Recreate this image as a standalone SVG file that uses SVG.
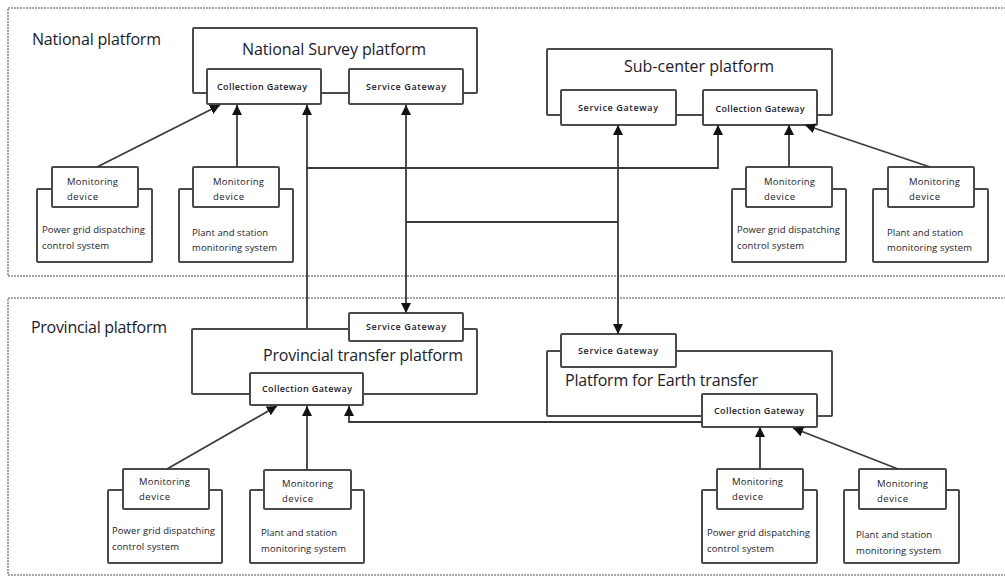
<svg xmlns="http://www.w3.org/2000/svg" width="1005" height="576" viewBox="0 0 1005 576">
<defs>
<marker id="ah" viewBox="0 0 10 10" refX="10" refY="5" markerWidth="10" markerHeight="10" markerUnits="userSpaceOnUse" orient="auto-start-reverse">
<path d="M0,0 L10,5 L0,10 z" fill="#111"/>
</marker>
<style>
.frame{fill:none;stroke:#8a8a8a;stroke-width:1.6;stroke-dasharray:2 1}
.box{fill:#fff;stroke:#4a4a4a;stroke-width:2}
.ln{fill:none;stroke:#3a3a3a;stroke-width:1.8}
.t{font-family:"Open Sans","Liberation Sans",sans-serif;fill:#1a1a2a}
.big{font-size:16px}
.sm{font-size:9.5px}
.gw{font-size:9px;text-anchor:middle;font-weight:600}
</style>
</defs>
<rect width="1005" height="576" fill="#fff"/>
<rect class="frame" x="8" y="8" width="1010" height="268"/>
<rect class="frame" x="8" y="298" width="1010" height="277"/>
<text class="t big" x="32" y="45" textLength="129">National platform</text>
<text class="t big" x="31" y="333" textLength="136">Provincial platform</text>

<g id="national-survey">
<rect class="box" x="193" y="28" width="284" height="65" rx="1"/>
<text class="t big" x="242" y="55" textLength="184">National Survey platform</text>
<rect class="box" x="207" y="69" width="114" height="35" rx="1"/>
<text class="t gw" x="262" y="90" textLength="90">Collection Gateway</text>
<rect class="box" x="349" y="69" width="114" height="35" rx="1"/>
<text class="t gw" x="406" y="90" textLength="80">Service Gateway</text>
</g>

<g id="sub-center">
<rect class="box" x="547" y="49" width="285" height="66" rx="1"/>
<text class="t big" x="624" y="72" textLength="150">Sub-center platform</text>
<rect class="box" x="561" y="90" width="115" height="35" rx="1"/>
<text class="t gw" x="618" y="111" textLength="80">Service Gateway</text>
<rect class="box" x="703" y="90" width="114" height="35" rx="1"/>
<text class="t gw" x="760" y="112" textLength="89">Collection Gateway</text>
</g>

<g id="provincial-transfer">
<rect class="box" x="192" y="329" width="285" height="65" rx="1"/>
<rect class="box" x="349" y="313" width="114" height="28" rx="1"/>
<text class="t gw" x="406" y="330" textLength="80">Service Gateway</text>
<text class="t big" x="263" y="361" textLength="200">Provincial transfer platform</text>
<rect class="box" x="250" y="373" width="113" height="32" rx="1"/>
<text class="t gw" x="307" y="392" textLength="90">Collection Gateway</text>
</g>

<g id="earth-transfer">
<rect class="box" x="547" y="351" width="285" height="65" rx="1"/>
<rect class="box" x="561" y="334" width="115" height="33" rx="1"/>
<text class="t gw" x="618" y="354" textLength="80">Service Gateway</text>
<text class="t big" x="565" y="386" textLength="193">Platform for Earth transfer</text>
<rect class="box" x="702" y="394" width="115" height="33" rx="1"/>
<text class="t gw" x="759" y="414" textLength="90">Collection Gateway</text>
</g>

<g id="dev-n1">
<rect class="box" x="37" y="189" width="115" height="73" rx="1"/>
<rect class="box" x="52" y="167" width="86" height="40" rx="1"/>
<text class="t sm" x="67" y="185" textLength="51">Monitoring</text>
<text class="t sm" x="67" y="200" textLength="31">device</text>
<text class="t sm" x="42" y="233" textLength="103">Power grid dispatching</text>
<text class="t sm" x="42" y="249" textLength="67">control system</text>
</g>
<g id="dev-n2">
<rect class="box" x="179" y="189" width="114" height="73" rx="1"/>
<rect class="box" x="193" y="167" width="86" height="40" rx="1"/>
<text class="t sm" x="213" y="185" textLength="51">Monitoring</text>
<text class="t sm" x="213" y="200" textLength="31">device</text>
<text class="t sm" x="192" y="236" textLength="76">Plant and station</text>
<text class="t sm" x="192" y="251" textLength="85">monitoring system</text>
</g>
<g id="dev-n3">
<rect class="box" x="732" y="189" width="114" height="73" rx="1"/>
<rect class="box" x="746" y="167" width="86" height="40" rx="1"/>
<text class="t sm" x="764" y="185" textLength="51">Monitoring</text>
<text class="t sm" x="764" y="200" textLength="31">device</text>
<text class="t sm" x="737" y="233" textLength="103">Power grid dispatching</text>
<text class="t sm" x="737" y="249" textLength="67">control system</text>
</g>
<g id="dev-n4">
<rect class="box" x="873" y="189" width="115" height="73" rx="1"/>
<rect class="box" x="888" y="167" width="86" height="40" rx="1"/>
<text class="t sm" x="909" y="185" textLength="51">Monitoring</text>
<text class="t sm" x="909" y="200" textLength="31">device</text>
<text class="t sm" x="887" y="236" textLength="76">Plant and station</text>
<text class="t sm" x="887" y="251" textLength="85">monitoring system</text>
</g>
<g id="dev-p1">
<rect class="box" x="108" y="490" width="114" height="73" rx="1"/>
<rect class="box" x="123" y="469" width="86" height="40" rx="1"/>
<text class="t sm" x="139" y="485" textLength="51">Monitoring</text>
<text class="t sm" x="139" y="500" textLength="31">device</text>
<text class="t sm" x="112" y="534" textLength="103">Power grid dispatching</text>
<text class="t sm" x="112" y="550" textLength="67">control system</text>
</g>
<g id="dev-p2">
<rect class="box" x="250" y="490" width="114" height="73" rx="1"/>
<rect class="box" x="264" y="470" width="87" height="39" rx="1"/>
<text class="t sm" x="282" y="487" textLength="51">Monitoring</text>
<text class="t sm" x="282" y="502" textLength="31">device</text>
<text class="t sm" x="261" y="536" textLength="76">Plant and station</text>
<text class="t sm" x="261" y="552" textLength="85">monitoring system</text>
</g>
<g id="dev-p3">
<rect class="box" x="702" y="490" width="115" height="73" rx="1"/>
<rect class="box" x="717" y="469" width="86" height="40" rx="1"/>
<text class="t sm" x="732" y="485" textLength="51">Monitoring</text>
<text class="t sm" x="732" y="500" textLength="31">device</text>
<text class="t sm" x="707" y="536" textLength="103">Power grid dispatching</text>
<text class="t sm" x="707" y="552" textLength="67">control system</text>
</g>
<g id="dev-p4">
<rect class="box" x="844" y="490" width="115" height="73" rx="1"/>
<rect class="box" x="859" y="469" width="87" height="40" rx="1"/>
<text class="t sm" x="877" y="487" textLength="51">Monitoring</text>
<text class="t sm" x="877" y="502" textLength="31">device</text>
<text class="t sm" x="856" y="538" textLength="76">Plant and station</text>
<text class="t sm" x="856" y="554" textLength="85">monitoring system</text>
</g>

<g id="connectors">
<line class="ln" x1="97" y1="167" x2="220" y2="105" marker-end="url(#ah)"/>
<line class="ln" x1="237" y1="167" x2="237" y2="105" marker-end="url(#ah)"/>
<line class="ln" x1="307" y1="329" x2="307" y2="105" marker-end="url(#ah)"/>
<polyline class="ln" points="307,168 718,168 718,125" marker-end="url(#ah)"/>
<line class="ln" x1="406" y1="105" x2="406" y2="313" marker-start="url(#ah)" marker-end="url(#ah)"/>
<line class="ln" x1="406" y1="222" x2="618" y2="222"/>
<line class="ln" x1="618" y1="125" x2="618" y2="334" marker-start="url(#ah)" marker-end="url(#ah)"/>
<line class="ln" x1="789" y1="167" x2="789" y2="125" marker-end="url(#ah)"/>
<line class="ln" x1="930" y1="167" x2="805" y2="125" marker-end="url(#ah)"/>
<line class="ln" x1="167" y1="469" x2="277" y2="406" marker-end="url(#ah)"/>
<line class="ln" x1="307" y1="470" x2="307" y2="406" marker-end="url(#ah)"/>
<polyline class="ln" points="702,422 349,422 349,406" marker-end="url(#ah)"/>
<line class="ln" x1="760" y1="469" x2="760" y2="427" marker-end="url(#ah)"/>
<line class="ln" x1="898" y1="469" x2="793" y2="428" marker-end="url(#ah)"/>
</g>
</svg>
